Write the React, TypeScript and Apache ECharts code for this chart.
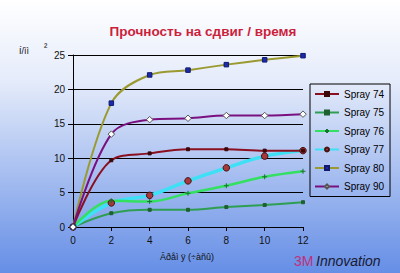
import React, { useEffect, useRef } from "react";
import * as echarts from "echarts";

const hours = [0, 2, 4, 6, 8, 10, 12];
const spray74 = [0, 9.7, 10.7, 11.3, 11.3, 11.1, 11.1];
const spray75 = [0, 2.0, 2.5, 2.5, 2.9, 3.2, 3.6];
const spray76 = [0, 3.8, 3.7, 4.9, 6.0, 7.3, 8.1];
const spray77 = [0, 3.5, 4.6, 6.7, 8.6, 10.3, 11.1];
const spray80 = [0, 18.0, 22.1, 22.8, 23.6, 24.3, 24.9];
const spray90 = [0, 13.5, 15.6, 15.8, 16.2, 16.2, 16.4];

const titleText = "Прочность на сдвиг / время";
const xTitle = "Âðåì ÿ (÷àñû)";
const yTitle = "Í/ìì";

const pair = (ys: number[]) => hours.map((h, i) => [h, ys[i]]);

export default function App() {
  const ref = useRef<HTMLDivElement>(null);
  useEffect(() => {
    const chart = echarts.init(ref.current!, null, { renderer: "svg" });
    const font = "Arial, 'Liberation Sans', sans-serif";
    const mk = (
      name: string,
      ys: number[],
      color: string,
      width: number,
      symbol: string,
      size: number,
      symColor: string,
      symBorder: string
    ) => ({
      name,
      type: "line",
      data: pair(ys),
      smooth: 0.35,
      lineStyle: { color, width },
      itemStyle: { color: symColor, borderColor: symBorder, borderWidth: 1 },
      color,
      symbol,
      symbolSize: size,
      showSymbol: true,
    });
    const plus = "path://M0,4H8M4,0V8";
    chart.setOption({
      animation: false,
      backgroundColor: new echarts.graphic.LinearGradient(0, 0, 0, 1, [
        { offset: 0, color: "#ffffff" },
        { offset: 0.3, color: "#e4ebfa" },
        { offset: 1, color: "#658ee6" },
      ]),
      title: {
        text: titleText,
        left: 198,
        textAlign: "center",
        top: 19,
        textStyle: { color: "#cc1f3c", fontSize: 13.5, fontWeight: "bold", fontFamily: font },
      },
      grid: { left: 73, right: 97, top: 55, bottom: 46, containLabel: false },
      xAxis: {
        type: "value",
        min: 0,
        max: 12,
        interval: 2,
        axisLine: { lineStyle: { color: "#000", width: 1 } },
        axisTick: { show: true, length: 4, lineStyle: { color: "#000" } },
        axisLabel: { color: "#111", fontSize: 10, fontFamily: font, margin: 8 },
        splitLine: { show: false },
      },
      yAxis: {
        type: "value",
        min: 0,
        max: 25,
        interval: 5,
        axisLine: { show: true, lineStyle: { color: "#000", width: 1 } },
        axisTick: { show: true, length: 5, lineStyle: { color: "#000" } },
        axisLabel: { color: "#111", fontSize: 10, fontFamily: font, margin: 8 },
        splitLine: { show: true, lineStyle: { color: "#000", width: 1 } },
      },
      legend: {
        orient: "vertical",
        left: 310,
        top: 84,
        padding: [4, 6, 4, 4],
        itemGap: 6.5,
        itemWidth: 24,
        itemHeight: 5,
        borderColor: "#000",
        borderWidth: 1,
        backgroundColor: "transparent",
        textStyle: { color: "#000", fontSize: 10, fontFamily: font, lineHeight: 12 },
        data: ["Spray 74", "Spray 75", "Spray 76", "Spray 77", "Spray 80", "Spray 90"],
      },
      series: [
        mk("Spray 75", spray75, "#2e9e52", 2, "rect", 3, "#1f5f30", "#1f5f30"),
        mk("Spray 77", spray77, "#3ee0f5", 3.5, "circle", 6.5, "#a8383c", "#4a1010"),
        mk("Spray 76", spray76, "#33e060", 2.5, plus, 5, "#1a7030", "#1a7030"),
        mk("Spray 74", spray74, "#8a1020", 2, "rect", 3, "#3a0808", "#3a0808"),
        mk("Spray 80", spray80, "#9a9a30", 2, "rect", 4.5, "#1a2aa8", "#101870"),
        mk("Spray 90", spray90, "#7a1080", 2, "diamond", 6.5, "#ffffff", "#555555"),
      ],
      graphic: [
        {
          type: "text",
          left: 19,
          top: 46,
          style: { text: yTitle, fill: "#111", font: `9px ${font}` },
        },
        {
          type: "text",
          left: 44,
          top: 41,
          style: { text: "²", fill: "#111", font: `10px ${font}` },
        },
        {
          type: "text",
          x: 187,
          y: 257,
          style: {
            text: xTitle,
            fill: "#111",
            font: `9px ${font}`,
            align: "center",
            verticalAlign: "middle",
          },
        },
        {
          type: "text",
          x: 294,
          y: 261,
          style: {
            text: "3M",
            fill: "#c0307a",
            font: `14px ${font}`,
            verticalAlign: "middle",
          },
        },
        {
          type: "text",
          x: 316,
          y: 261,
          style: {
            text: "Innovation",
            fill: "#1a1a30",
            font: `italic 14px ${font}`,
            verticalAlign: "middle",
          },
        },
      ],
    });
    return () => chart.dispose();
  }, []);
  return <div ref={ref} style={{ width: 400, height: 273, position: "absolute", left: 0, top: 0 }} />;
}
